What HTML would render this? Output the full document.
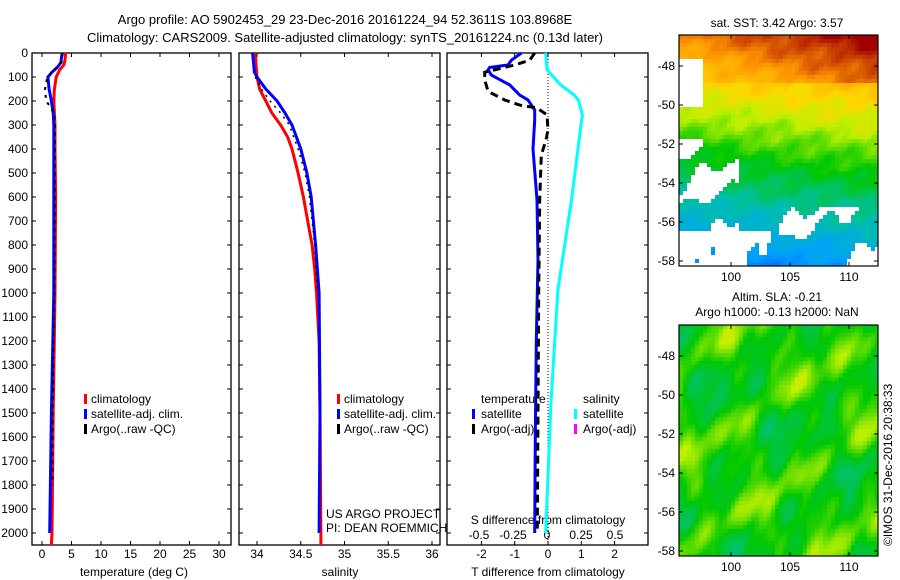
<!DOCTYPE html>
<html><head><meta charset="utf-8">
<style>
body{margin:0;background:#fff;}
svg{display:block;font-family:"Liberation Sans",sans-serif;}
text{fill:#000;}
</style></head>
<body>
<svg id="fig" width="900" height="580" viewBox="0 0 900 580" xmlns="http://www.w3.org/2000/svg">
<text x="345" y="24" font-size="13" text-anchor="middle">Argo profile: AO 5902453_29 23-Dec-2016 20161224_94 52.3611S 103.8968E</text>
<text x="345" y="42" font-size="13" text-anchor="middle">Climatology: CARS2009. Satellite-adjusted climatology: synTS_20161224.nc (0.13d later)</text>
<g id="p1"></g>
<g id="p2"></g>
<g id="p3"></g>
<g id="m1"></g>
<g id="m2"></g>
<text x="777" y="27" font-size="12" text-anchor="middle">sat. SST: 3.42 Argo: 3.57</text>
<text x="777" y="301" font-size="12" text-anchor="middle">Altim. SLA: -0.21</text>
<text x="777" y="316" font-size="12" text-anchor="middle">Argo h1000: -0.13 h2000: NaN</text>
<text x="0" y="0" font-size="12" transform="translate(892,546) rotate(-90)">©IMOS 31-Dec-2016 20:38:33</text>
</svg>
<script>
// ---- data ----
const depthTicks=[0,100,200,300,400,500,600,700,800,900,1000,1100,1200,1300,1400,1500,1600,1700,1800,1900,2000];
const tempTicks=[0,5,10,15,20,25,30];
const salTicks=[34,34.5,35,35.5,36];
const salTickLabels=["34","34.5","35","35.5","36"];
const tdTicks=[-2,-1,0,1,2];
const sdTicks=[-0.5,-0.25,0,0.25,0.5];
const sdTickLabels=["-0.5","-0.25","0","0.25","0.5"];
const tClimDepth=[0,30,50,70,100,150,200,300,400,600,1000,1500,2000,2050];
const tClim=[4.0,3.9,3.7,3.0,2.4,2.1,2.0,2.2,2.2,2.3,2.2,1.9,1.7,1.6];
const tSatDepth=[0,40,60,80,100,150,200,250,300,400,1000,1500,2000];
const tSat=[3.4,3.2,2.6,1.7,1.0,1.2,1.6,1.9,2.0,2.0,2.0,1.6,1.3];
const tArgoDepth=[0,40,60,100,150,200,230,260,300,400,1000,1500,1800];
const tArgo=[3.5,3.3,2.5,0.9,0.5,0.7,1.6,2.1,2.2,2.2,2.1,1.8,1.8];
const sClimDepth=[0,100,150,200,250,300,350,400,500,600,700,800,900,1000,1200,1500,2000,2050];
const sClim=[33.98,34.0,34.03,34.1,34.17,34.27,34.35,34.4,34.47,34.53,34.58,34.63,34.66,34.68,34.71,34.72,34.73,34.73];
const sSatDepth=[0,80,100,150,200,250,300,400,500,600,800,1000,1500,2000];
const sSat=[33.95,33.97,34.0,34.1,34.23,34.32,34.4,34.5,34.57,34.62,34.67,34.71,34.72,34.71];
const sArgoDepth=[100,150,200,250,300,400,500,600,800,1000];
const sArgo=[33.98,34.05,34.15,34.27,34.37,34.47,34.55,34.6,34.66,34.69];
const dTSatDepth=[0,30,50,60,70,92,133,175,196,237,280,400,612,860,1200,1600,2000];
const dTSat=[-0.8,-1.1,-1.2,-1.75,-1.8,-1.7,-1.15,-0.85,-0.6,-0.4,-0.4,-0.45,-0.33,-0.3,-0.35,-0.38,-0.4];
const dTArgoDepth=[0,30,50,80,112,160,196,217,229,258,320,362,425,612,1000,1500,2000];
const dTArgo=[-0.4,-0.55,-1.0,-1.9,-1.9,-1.8,-1.3,-0.85,-0.33,-0.03,0.0,-0.06,-0.2,-0.25,-0.28,-0.3,-0.32];
const dSSatDepth=[0,70,133,175,196,258,300,612,987,1446,1862,2000];
const dSSat=[-0.01,0.0,0.1,0.2,0.23,0.26,0.25,0.18,0.08,0.03,0.0,-0.01];

const NS="http://www.w3.org/2000/svg";
function mk(parent,tag,attrs){const e=document.createElementNS(NS,tag);for(const k in attrs)e.setAttribute(k,attrs[k]);parent.appendChild(e);return e;}
const y0=53,ky=0.24;
const yD=d=>y0+d*ky;
const xT=v=>42+v*5.9;
const xS=v=>257+(v-34)*87.5;
const xDT=v=>548+v*33.3;
const xDS=v=>547+v*136;
const pTop=53,pBot=545;

function frame(g,x1,x2,nm){
  const r=mk(g,'rect',{x:x1,y:pTop,width:x2-x1,height:pBot-pTop,fill:'none',stroke:'#000','stroke-width':1.3});
  
  
}
function line(g,xs,ds,fx,col,w,dash,nm){
  const pts=xs.map((v,i)=>fx(v).toFixed(1)+','+yD(ds[i]).toFixed(1)).join(' ');
  const p=mk(g,'polyline',{points:pts,fill:'none',stroke:col,'stroke-width':w});
  if(dash)p.setAttribute('stroke-dasharray',dash);
  
  
}
function txt(g,x,y,s,nm,anchor,fs){const t=mk(g,'text',{x:x,y:y,'font-size':fs||12});if(anchor)t.setAttribute('text-anchor',anchor);t.textContent=s;return t;}
function xticks(g,ticks,labels,fx,ly,nm){
  ticks.forEach((t,i)=>{
    const x=fx(t);
    mk(g,'line',{x1:x,x2:x,y1:pBot,y2:pBot-4,stroke:'#000'});
    mk(g,'line',{x1:x,x2:x,y1:pTop,y2:pTop+4,stroke:'#000'});
    txt(g,x,ly,labels[i],nm+'-tick-label','middle');
  });
}
function yticks(g,x1,x2){
  depthTicks.forEach(d=>{mk(g,'line',{x1:x1,x2:x1+4,y1:yD(d),y2:yD(d),stroke:'#000'});mk(g,'line',{x1:x2,x2:x2-4,y1:yD(d),y2:yD(d),stroke:'#000'});});
}
function legMark(g,x,y,col,nm){const r=mk(g,'rect',{x:x,y:y-9,width:3,height:10,fill:col});}

// panel 1
const p1=document.getElementById('p1');
frame(p1,32,231,'temperature');
yticks(p1,32,231);
depthTicks.forEach(d=>{txt(p1,28,yD(d)+4,String(d),'depth-tick-label','end');});
xticks(p1,tempTicks,tempTicks.map(String),xT,558,'temperature');
txt(p1,134,576,'temperature (deg C)','temperature-axis-title','middle');
line(p1,tClim,tClimDepth,xT,'#ff0000',3,null,'temp-climatology-line');
line(p1,tSat,tSatDepth,xT,'#0000ff',3,null,'temp-satellite-line');
line(p1,tArgo,tArgoDepth,xT,'#000',2,'3,5','temp-argo-line');
legMark(p1,84,403,'#f00','legend-climatology-mark');txt(p1,91,403,'climatology','legend-climatology');
legMark(p1,84,418,'#00f','legend-satellite-mark');txt(p1,91,418,'satellite-adj. clim.','legend-satellite');
legMark(p1,84,433,'#000','legend-argo-mark');txt(p1,91,433,'Argo(..raw -QC)','legend-argo');

// panel 2
const p2=document.getElementById('p2');
frame(p2,239,440,'salinity');
yticks(p2,239,440);
xticks(p2,salTicks,salTickLabels,xS,558,'salinity');
txt(p2,340,576,'salinity','salinity-axis-title','middle');
line(p2,sClim,sClimDepth,xS,'#ff0000',3,null,'sal-climatology-line');
line(p2,sSat,sSatDepth,xS,'#0000ff',3,null,'sal-satellite-line');
line(p2,sArgo,sArgoDepth,xS,'#000',1.5,'2,5','sal-argo-line');
legMark(p2,337,403,'#f00','legend2-climatology-mark');txt(p2,344,403,'climatology','legend2-climatology');
legMark(p2,337,418,'#00f','legend2-satellite-mark');txt(p2,344,418,'satellite-adj. clim.','legend2-satellite');
legMark(p2,337,433,'#000','legend2-argo-mark');txt(p2,344,433,'Argo(..raw -QC)','legend2-argo');
txt(p2,326,518,'US ARGO PROJECT','credit-project');
txt(p2,326,532,'PI: DEAN ROEMMICH','credit-pi');

// panel 3
const p3=document.getElementById('p3');
frame(p3,447,648,'difference');
yticks(p3,447,648);
tdTicks.forEach(t=>{mk(p3,'line',{x1:xDT(t),x2:xDT(t),y1:pBot,y2:pBot-4,stroke:'#000'});mk(p3,'line',{x1:xDT(t),x2:xDT(t),y1:pTop,y2:pTop+4,stroke:'#000'});txt(p3,xDT(t),558,String(t),'t-diff-tick-label','middle');});
sdTicks.forEach((t,i)=>{txt(p3,xDS(t),539,sdTickLabels[i],'s-diff-tick-label','middle');});
txt(p3,548,524,'S difference from climatology','s-diff-axis-title','middle');
txt(p3,548,576,'T difference from climatology','t-diff-axis-title','middle');
mk(p3,'line',{x1:xDT(0),x2:xDT(0),y1:pTop,y2:pBot,stroke:'#000','stroke-dasharray':'1,2'});
line(p3,dSSat,dSSatDepth,xDS,'#00ffff',3,null,'s-diff-satellite-line');
line(p3,dTSat,dTSatDepth,xDT,'#0000ff',3,null,'t-diff-satellite-line');
line(p3,dTArgo,dTArgoDepth,xDT,'#000',3,'8,5','t-diff-argo-line');
txt(p3,481,403,'temperature','legend3-temperature-header');
txt(p3,583,403,'salinity','legend3-salinity-header');
legMark(p3,472,418,'#00f','legend3-tsat-mark');txt(p3,481,418,'satellite','legend3-tsat');
legMark(p3,472,433,'#000','legend3-targo-mark');txt(p3,481,433,'Argo(-adj)','legend3-targo');
legMark(p3,574,418,'#0ff','legend3-ssat-mark');txt(p3,583,418,'satellite','legend3-ssat');
legMark(p3,574,433,'#f0f','legend3-sargo-mark');txt(p3,583,433,'Argo(-adj)','legend3-sargo');

// maps
const latTicks=[-48,-50,-52,-54,-56,-58];
const lonTicks=[100,105,110];
const cmapStops=[[0,0,0,140],[0.15,0,60,255],[0.3,0,160,255],[0.42,0,190,170],[0.55,0,200,0],[0.66,190,240,0],[0.74,255,215,0],[0.85,255,150,0],[1,160,0,0]];
function cmap(v){v=Math.max(0,Math.min(1,v));
  for(let k=1;k<cmapStops.length;k++){const a=cmapStops[k-1],b=cmapStops[k];
    if(v<=b[0]){const t=(v-a[0])/(b[0]-a[0]);return 'rgb('+[1,2,3].map(q=>Math.round(a[q]+(b[q]-a[q])*t)).join(',')+')';}}
  return 'rgb(160,0,0)';}
function noise(i,j,s){return Math.sin(i*0.37+j*0.91+s)*0.4+Math.sin(i*0.83-j*0.29+2*s)*0.25+Math.sin(i*1.7+j*1.3+s*3)*0.15+Math.sin(i*0.21-j*0.53+5*s)*0.2;}
function drawMap(id,yTop,fn,nm){
  const g=document.getElementById(id);
  const x1=679,x2=878,y1=yTop,y2=yTop+231,cs=4;
  for(let j=0;j*cs<y2-y1;j++)for(let i=0;i*cs<x2-x1;i++){
    const c=fn(i,j);if(!c)continue;
    mk(g,'rect',{x:x1+i*cs,y:y1+j*cs,width:Math.min(cs,x2-x1-i*cs),height:Math.min(cs,y2-y1-j*cs),fill:c});
  }
  const f=mk(g,'rect',{x:x1,y:y1,width:x2-x1,height:y2-y1,fill:'none',stroke:'#000','stroke-width':1.2});
  
  const yL=l=>y1+31+(-48-l)*19.5;
  const xL=l=>731+(l-100)*11.8;
  latTicks.forEach(l=>{mk(g,'line',{x1:x1,x2:x1+4,y1:yL(l),y2:yL(l),stroke:'#000'});mk(g,'line',{x1:x2,x2:x2-4,y1:yL(l),y2:yL(l),stroke:'#000'});txt(g,675,yL(l)+4,String(l),nm+'-lat-label','end');});
  lonTicks.forEach(l=>{mk(g,'line',{x1:xL(l),x2:xL(l),y1:y2,y2:y2-4,stroke:'#000'});mk(g,'line',{x1:xL(l),x2:xL(l),y1:y1,y2:y1+4,stroke:'#000'});txt(g,xL(l),y2+15,String(l),nm+'-lon-label','middle');});
}
drawMap('m1',35,(i,j)=>{
  const lat=j/57, lon=i/50;
  const v=0.86-lat*0.62+lon*0.06+(lat<0.2?lon*0.1:0)+noise(i,j,1)*0.04;
  const holes=(lat>0.75&&noise(i*0.5,j*0.4,4)>0.4)||(lat>0.45&&lon<0.3&&noise(i*0.6,j*0.5,2)>0.1)||(lat>0.85&&lon<0.45&&noise(i,j*0.3,7)>-0.2)||(lat>0.1&&lat<0.3&&lon<0.12);
  if(holes)return null;
  return cmap(v);
},'sst-map');
drawMap('m2',325,(i,j)=>{
  const n=noise(i*0.5,j*0.3,5)+0.5*noise(i*0.9,j*0.6,9);
  return cmap(0.56+n*0.1);
},'sla-map');
</script>
</body></html>
